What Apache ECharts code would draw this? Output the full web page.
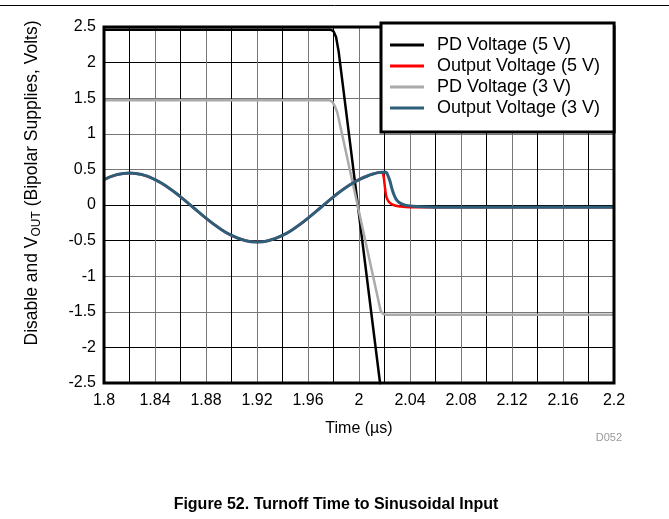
<!DOCTYPE html>
<html>
<head>
<meta charset="utf-8">
<script src="https://cdn.jsdelivr.net/npm/echarts@6/dist/echarts.min.js"></script>
<style>html,body{margin:0;padding:0;background:#fff;}#c{width:669px;height:519px;}</style>
</head>
<body>
<div id="c"></div>
<script>
// ---- data ----
const xTicks = [1.8,1.84,1.88,1.92,1.96,2,2.04,2.08,2.12,2.16,2.2];
const yTicks = [-2.5,-2,-1.5,-1,-0.5,0,0.5,1,1.5,2,2.5];

const tPD5 = [1.8, 1.978, 1.980, 1.982, 1.984, 2.0165, 2.025];
const vPD5 = [2.46, 2.46, 2.44, 2.36, 2.16, -2.5, -3.7];

const tPD3 = [1.8, 1.977, 1.979, 1.981, 1.983, 2.017, 2.019, 2.021, 2.2];
const vPD3 = [1.47, 1.47, 1.45, 1.39, 1.30, -1.49, -1.53, -1.54, -1.54];

const tSine = [1.80,1.81,1.82,1.83,1.84,1.85,1.86,1.87,1.88,1.89,1.90,1.91,1.92,1.93,1.94,1.95,1.96,1.97,1.98,1.99,2.00,2.01,2.015];
const vSine = [0.357,0.426,0.45,0.426,0.357,0.25,0.115,-0.035,-0.185,-0.32,-0.427,-0.496,-0.52,-0.496,-0.427,-0.32,-0.185,-0.035,0.115,0.25,0.357,0.43,0.455];

const tOut5Tail = [2.018, 2.019, 2.020, 2.021, 2.022, 2.024, 2.027, 2.032, 2.04, 2.06, 2.1, 2.15, 2.2];
const vOut5Tail = [0.46, 0.43, 0.30, 0.16, 0.09, 0.035, 0.0, -0.02, -0.03, -0.03, -0.03, -0.03, -0.03];

const tOut3Tail = [2.018, 2.021, 2.022, 2.024, 2.026, 2.028, 2.030, 2.033, 2.037, 2.045, 2.06, 2.1, 2.15, 2.2];
const vOut3Tail = [0.46, 0.46, 0.44, 0.35, 0.22, 0.12, 0.06, 0.02, -0.005, -0.02, -0.03, -0.03, -0.03, -0.03];

const names = ['PD Voltage (5 V)','Output Voltage (5 V)','PD Voltage (3 V)','Output Voltage (3 V)'];
const colors = ['#000000','#ff0000','#aaaaaa','#2d5f7a'];

function zip(t, v){ return t.map((x,i)=>[x, v[i]]); }
const dPD5 = zip(tPD5, vPD5);
const dPD3 = zip(tPD3, vPD3);
const dOut5 = zip(tSine.concat(tOut5Tail), vSine.concat(vOut5Tail));
const dOut3 = zip(tSine.concat(tOut3Tail), vSine.concat(vOut3Tail));

const FONT = 'Liberation Sans, Arial, sans-serif';
const chart = echarts.init(document.getElementById('c'), null, {renderer:'canvas'});

function fmt(v){ return String(parseFloat(v.toFixed(2))); }

chart.setOption({
  animation: false,
  backgroundColor: '#fff',
  grid: { left: 104, right: 55, top: 27, bottom: 136, show: true, borderColor: '#000', borderWidth: 3, backgroundColor: 'transparent', z: 5 },
  xAxis: {
    type: 'value', min: 1.8, max: 2.2, interval: 0.02,
    name: 'Time (\u00b5s)', nameLocation: 'middle', nameGap: 38,
    nameTextStyle: { fontFamily: FONT, fontSize: 16, color: '#000' },
    axisLine: { show: false }, axisTick: { show: false },
    axisLabel: {
      fontFamily: FONT, fontSize: 16, color: '#000', margin: 10,
      formatter: function(v){
        const k = Math.round((v - 1.8) / 0.02);
        return (k % 2 === 0) ? fmt(v) : '';
      }
    },
    splitLine: { show: true, lineStyle: { color: ['#777','#000'], width: 1 } }
  },
  yAxis: {
    type: 'value', min: -2.5, max: 2.5, interval: 0.5,
    name: '{n|Disable and V}{s|OUT}{n| (Bipolar Supplies, Volts)}',
    nameLocation: 'middle', nameGap: 61, nameRotate: 90,
    nameTextStyle: {
      fontFamily: FONT, fontSize: 17.5, color: '#000', padding: [0,0,0,44],
      rich: {
        n: { fontFamily: FONT, fontSize: 17.5, color: '#000', lineHeight: 21, verticalAlign: 'middle' },
        s: { fontFamily: FONT, fontSize: 12, color: '#000', lineHeight: 12, verticalAlign: 'bottom' }
      }
    },
    axisLine: { show: false }, axisTick: { show: false },
    axisLabel: { fontFamily: FONT, fontSize: 16, color: '#000', margin: 8, formatter: v => fmt(v) },
    splitLine: { show: true, lineStyle: { color: ['#000','#000','#777','#777','#000','#000','#777','#777','#777','#000','#000'], width: 1 } }
  },
  legend: {
    data: names, orient: 'vertical', left: 381, top: 23,
    itemWidth: 34, itemHeight: 3, itemGap: 3,
    icon: 'rect',
    padding: [13, 14, 15, 9],
    backgroundColor: '#fff', borderColor: '#000', borderWidth: 3, borderRadius: 0,
    textStyle: { fontFamily: FONT, fontSize: 18, color: '#000', padding: [0,0,0,8] },
    z: 20
  },
  series: [
    { name: names[0], type: 'line', data: dPD5, showSymbol: false, lineStyle: { color: colors[0], width: 2.5 }, itemStyle: { color: colors[0] }, clip: true, z: 3 },
    { name: names[1], type: 'line', data: dOut5, showSymbol: false, smooth: 0.5, lineStyle: { color: colors[1], width: 2.5 }, itemStyle: { color: colors[1] }, clip: true, z: 3 },
    { name: names[2], type: 'line', data: dPD3, showSymbol: false, lineStyle: { color: colors[2], width: 2.5 }, itemStyle: { color: colors[2] }, clip: true, z: 3 },
    { name: names[3], type: 'line', data: dOut3, showSymbol: false, smooth: 0.5, lineStyle: { color: colors[3], width: 3 }, itemStyle: { color: colors[3] }, clip: true, z: 3 }
  ],
  graphic: [
    { type: 'line', shape: { x1: 0, y1: 5.5, x2: 669, y2: 5.5 }, style: { stroke: '#000', lineWidth: 1 }, z: 10 },
    { type: 'text', x: 622, y: 438, style: { text: 'D052', fontFamily: FONT, fontSize: 11, fill: '#999', align: 'right', verticalAlign: 'middle' } },
    { type: 'text', x: 336, y: 505, style: { text: 'Figure 52. Turnoff Time to Sinusoidal Input', fontFamily: FONT, fontSize: 16, fontWeight: 'bold', fill: '#000', align: 'center', verticalAlign: 'middle' } }
  ]
});
</script>
</body>
</html>
